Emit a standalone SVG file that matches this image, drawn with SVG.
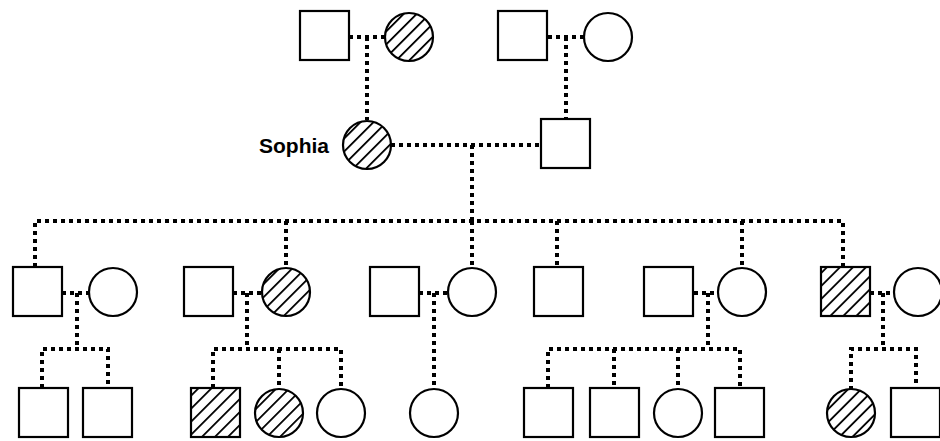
<svg xmlns="http://www.w3.org/2000/svg" width="940" height="441" viewBox="0 0 940 441">
<style>
.ln{fill:none;stroke:#000;stroke-width:4;stroke-dasharray:4 4}
.sh{fill:#fff;stroke:#000;stroke-width:2.2}
.ht{fill:url(#hatch);stroke:#000;stroke-width:2.2}
.lbl{font-family:"Liberation Sans",Arial,sans-serif;font-weight:bold;font-size:21px;fill:#000}
</style>
<defs>
<pattern id="hatch" patternUnits="userSpaceOnUse" width="9.2" height="9.2" patternTransform="rotate(45)">
<rect width="9.2" height="9.2" fill="#fff"/>
<line x1="0" y1="0" x2="0" y2="9.2" stroke="#000" stroke-width="3.6"/>
</pattern>
</defs>
<g id="connectors">
<path class="ln" d="M349 37 H385 M367 37 V120"/>
<path class="ln" d="M548 37 H585 M566 37 V118"/>
<path class="ln" d="M391 145 H541 M472 145 V221"/>
<path class="ln" d="M35 267 V221 H843 V267 M286 221 V269 M472 221 V269 M557 221 V267 M742 221 V269"/>
<path class="ln" d="M62 293 H90 M77 293 V349"/>
<path class="ln" d="M233 293 H263 M247 293 V349"/>
<path class="ln" d="M419 293 H449 M434 293 V390"/>
<path class="ln" d="M694 293 H719 M708 293 V349"/>
<path class="ln" d="M870 293 H895 M883 293 V349"/>
<path class="ln" d="M42 388 V349 H108 V388"/>
<path class="ln" d="M213 388 V349 H341 V390 M279 349 V390"/>
<path class="ln" d="M548 388 V349 H740 V388 M614 349 V388 M678 349 V390"/>
<path class="ln" d="M851 390 V349 H916 V388"/>
</g>
<g id="g1-m1"><rect class="sh" x="300" y="11" width="49" height="49"/></g>
<g id="g1-f1"><circle class="ht" cx="409" cy="37" r="24"/></g>
<g id="g1-m2"><rect class="sh" x="498" y="11" width="49" height="49"/></g>
<g id="g1-f2"><circle class="sh" cx="608" cy="37" r="24"/></g>
<g id="sophia"><circle class="ht" cx="367" cy="145" r="24"/><text class="lbl" x="329" y="153" text-anchor="end">Sophia</text></g>
<g id="husband"><rect class="sh" x="541" y="119" width="49" height="49"/></g>
<g id="c1"><rect class="sh" x="13" y="267" width="49" height="49"/></g>
<g id="c1-sp"><circle class="sh" cx="113" cy="292" r="24"/></g>
<g id="c2-sp"><rect class="sh" x="184" y="267" width="49" height="49"/></g>
<g id="c2"><circle class="ht" cx="286" cy="292" r="24"/></g>
<g id="c3-sp"><rect class="sh" x="370" y="267" width="49" height="49"/></g>
<g id="c3"><circle class="sh" cx="472" cy="292" r="24"/></g>
<g id="c4"><rect class="sh" x="534" y="267" width="49" height="49"/></g>
<g id="c5-sp"><rect class="sh" x="644" y="267" width="49" height="49"/></g>
<g id="c5"><circle class="sh" cx="742" cy="292" r="24"/></g>
<g id="c6"><rect class="ht" x="821" y="267" width="49" height="49"/></g>
<g id="c6-sp"><circle class="sh" cx="918" cy="292" r="24"/></g>
<g id="gc1"><rect class="sh" x="19" y="388" width="49" height="49"/></g>
<g id="gc2"><rect class="sh" x="83" y="388" width="49" height="49"/></g>
<g id="gc3"><rect class="ht" x="191" y="388" width="49" height="49"/></g>
<g id="gc4"><circle class="ht" cx="279" cy="413" r="24"/></g>
<g id="gc5"><circle class="sh" cx="341" cy="413" r="24"/></g>
<g id="gc6"><circle class="sh" cx="434" cy="413" r="24"/></g>
<g id="gc7"><rect class="sh" x="524" y="388" width="49" height="49"/></g>
<g id="gc8"><rect class="sh" x="590" y="388" width="49" height="49"/></g>
<g id="gc9"><circle class="sh" cx="678" cy="413" r="24"/></g>
<g id="gc10"><rect class="sh" x="715" y="388" width="49" height="49"/></g>
<g id="gc11"><circle class="ht" cx="851" cy="413" r="24"/></g>
<g id="gc12"><rect class="sh" x="891" y="388" width="49" height="49"/></g>
</svg>
